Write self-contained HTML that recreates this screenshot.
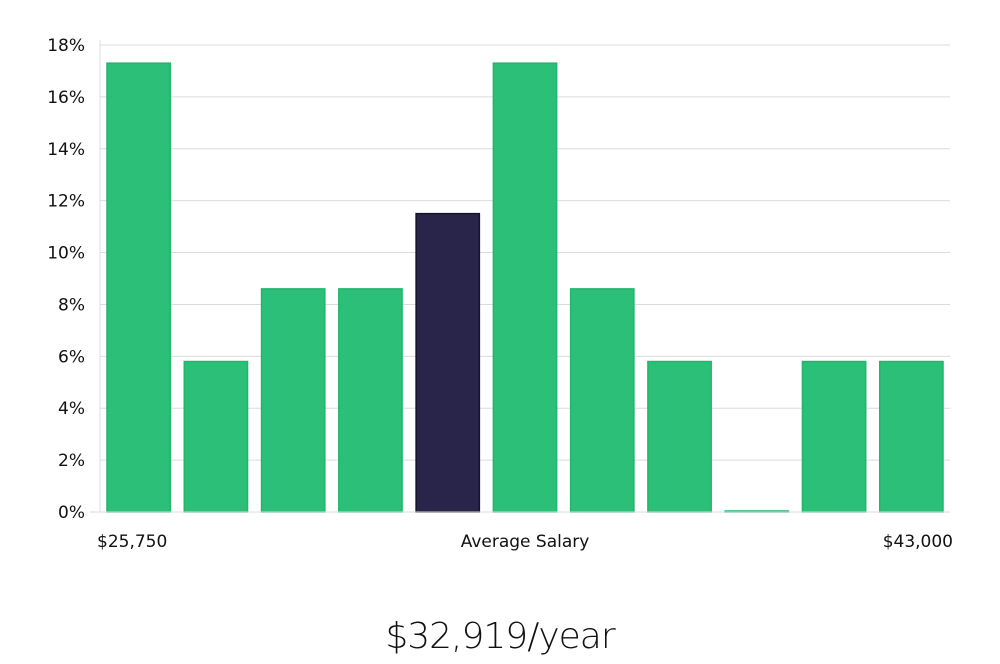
<!DOCTYPE html>
<html><head><meta charset="utf-8"><style>
html,body{margin:0;padding:0;background:#fff;}
body{width:1000px;height:660px;overflow:hidden;font-family:"DejaVu Sans","Liberation Sans",sans-serif;}
</style></head><body>
<svg id="chart" width="1000" height="660" xmlns="http://www.w3.org/2000/svg">
<g id="grid"></g>
<g id="yaxis"></g>
<g id="bars"></g>
<g id="xaxis"></g>
<text x="500" y="648" text-anchor="middle" font-size="36" font-family="'DejaVu Sans','Liberation Sans',sans-serif" font-weight="300" letter-spacing="-1" fill="#111">$32,919/year</text>
</svg>
<script>
const categories = ["b1","b2","b3","b4","b5","b6","b7","b8","b9","b10","b11"];
const values = [17.3,5.8,8.6,8.6,11.5,17.3,8.6,5.8,0,5.8,5.8];
const highlightIndex = 4;
const yTicks = [0,2,4,6,8,10,12,14,16,18];
const xLabels = ["$25,750","Average Salary","$43,000"];
(function(){
const NS="http://www.w3.org/2000/svg";
const plotLeft=100,plotRight=950,plotTop=45,plotBottom=512,yMax=18;
const y=v=>plotBottom-(v/yMax)*(plotBottom-plotTop);
const slot=(plotRight-plotLeft)/categories.length;
const x=i=>plotLeft+i*slot;
function mk(tag,attrs,parent){const e=document.createElementNS(NS,tag);for(const k in attrs)e.setAttribute(k,attrs[k]);parent.appendChild(e);return e;}
const grid=document.getElementById('grid'),ya=document.getElementById('yaxis'),bars=document.getElementById('bars'),xa=document.getElementById('xaxis');
yTicks.forEach(t=>{
  const l=mk('line',{x1:plotLeft,x2:plotRight,y1:y(t),y2:y(t),stroke:'#dcdcdc','stroke-width':1},grid);
  
  
  const tx=mk('text',{x:85,y:y(t)+6,'text-anchor':'end','font-size':17,fill:'#111'},ya);
  tx.textContent=t+'%';
  
  
});
const ax=mk('line',{x1:plotLeft,x2:plotLeft,y1:40,y2:plotBottom,stroke:'#dcdcdc'},ya);


values.forEach((v,i)=>{
  const hl=i===highlightIndex;
  const h=Math.max(plotBottom-y(v),1);
  const r=mk('rect',{x:x(i)+7,y:plotBottom-h,width:slot-14,height:h,fill:hl?'#29254a':'#2bbf78',stroke:hl?'#15122e':'#22b56c','stroke-width':1.5},bars);
  
  
});
const xl=mk('line',{x1:plotLeft-10,x2:plotRight,y1:plotBottom,y2:plotBottom,stroke:'#dcdcdc'},xa);


[[97,'start'],[525,'middle'],[953,'end']].forEach((p,i)=>{
  const t=mk('text',{x:p[0],y:547,'text-anchor':p[1],'font-size':17,fill:'#111'},xa);
  t.textContent=xLabels[i];
  
  
});
})();
</script>
</body></html>
